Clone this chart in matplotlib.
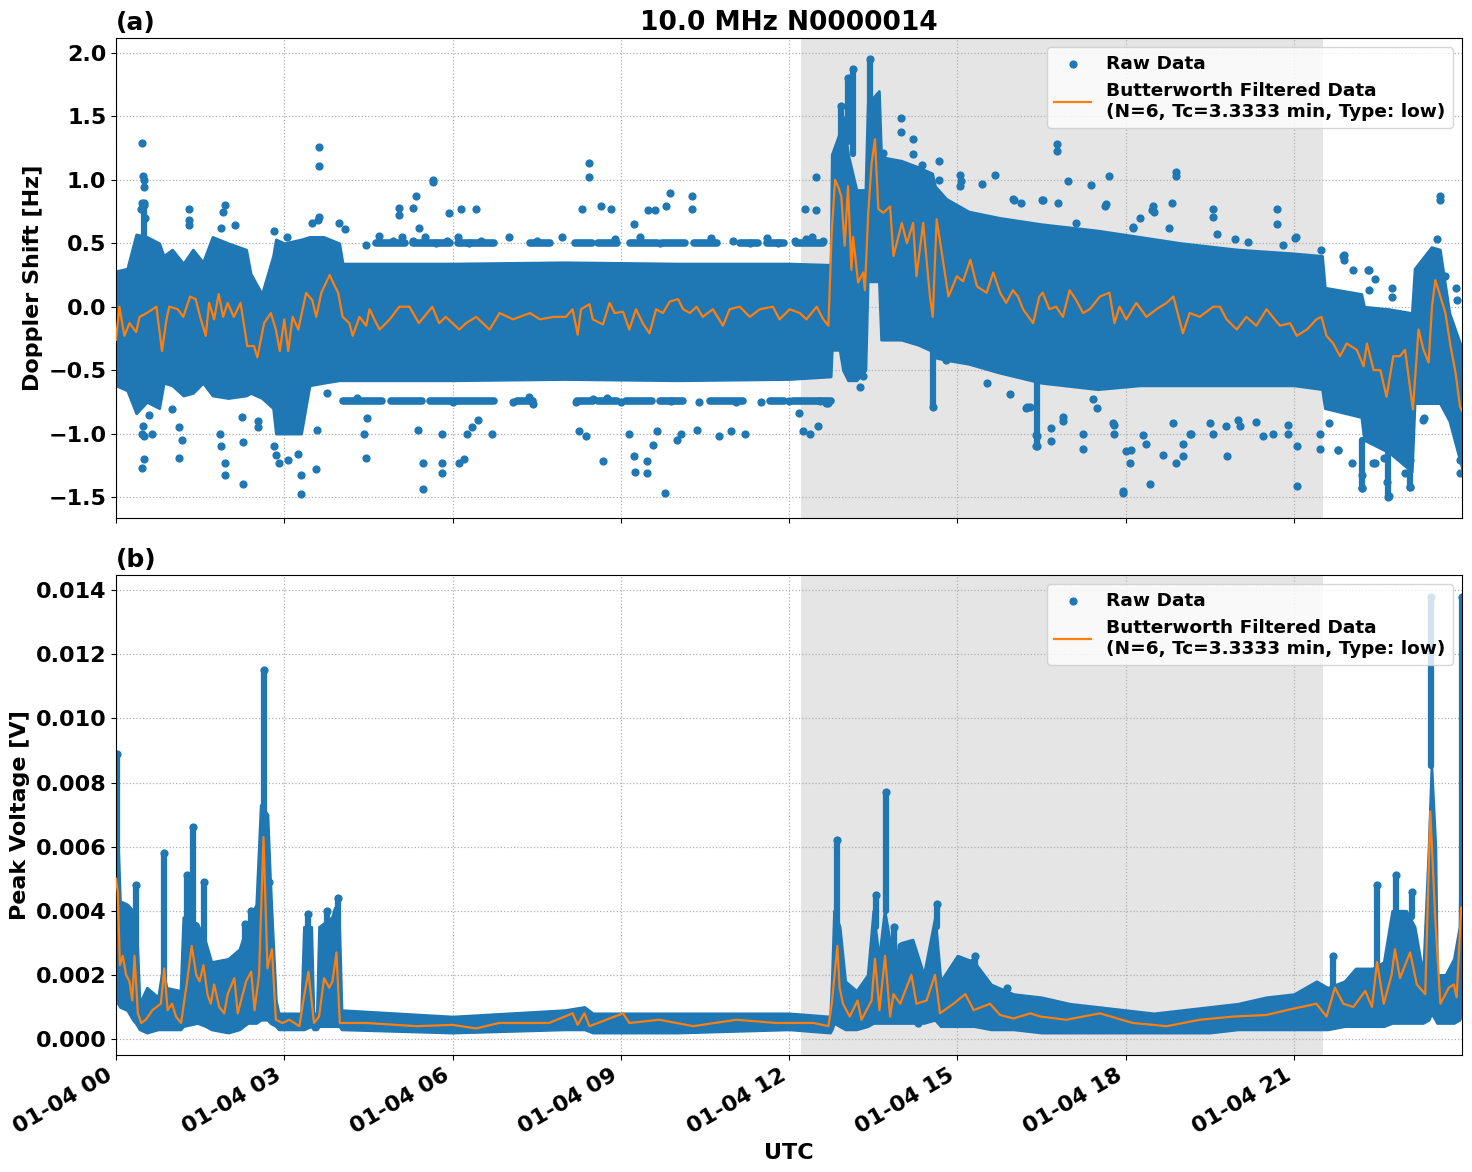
import numpy as np
import matplotlib
matplotlib.use("Agg")
import matplotlib.pyplot as plt
import matplotlib.dates as mdates

matplotlib.rcParams.update({
    'font.size': 16,
    'font.weight': 'bold',
    'axes.labelweight': 'bold',
    'axes.titleweight': 'bold',
})

# hours after 2024-01-04 00:00 UTC
shade_start = 12.21
shade_end = 21.52
t_last = 23.995

# ---- (a) Doppler shift [Hz] ----
# dense part of the raw scatter: lower / upper edge
dop_band_t = [0.0, 0.2, 0.36, 0.55, 0.77, 0.85, 1.0, 1.2, 1.37, 1.55, 1.72, 2.0, 2.32, 2.4, 2.6, 2.8, 2.85,
              3.0, 3.3, 3.45, 3.7, 3.98, 4.04, 6.0, 8.0, 10.0, 12.0, 12.74, 12.76, 12.9, 12.96, 13.05, 13.2,
              13.36, 13.4, 13.6, 13.64, 14.0, 14.3, 14.55, 14.6, 14.8, 15.2, 15.75, 16.5, 17.5, 18.25, 19.0,
              20.0, 21.0, 21.5, 21.55, 22.2, 22.25, 22.7, 23.1, 23.15, 23.45, 23.6, 23.77, 24.0]
dop_band_lo = [-0.62, -0.66, -0.84, -0.75, -0.8, -0.6, -0.62, -0.7, -0.68, -0.6, -0.7, -0.72, -0.7, -0.68,
               -0.72, -0.8, -1.0, -1.0, -1.0, -0.62, -0.6, -0.58, -0.58, -0.58, -0.57, -0.58, -0.57, -0.55,
               -0.34, -0.34, -0.5, -0.58, -0.58, -0.5, 0.2, 0.2, -0.26, -0.26, -0.3, -0.35, -0.4, -0.42,
               -0.45, -0.52, -0.6, -0.65, -0.62, -0.62, -0.62, -0.62, -0.65, -0.8, -0.87, -1.05, -1.15,
               -1.3, -0.76, -0.76, -0.76, -0.9, -1.28]
dop_band_hi = [0.28, 0.3, 0.57, 0.55, 0.5, 0.4, 0.45, 0.34, 0.45, 0.35, 0.55, 0.5, 0.45, 0.26, 0.1, 0.4, 0.53,
               0.5, 0.53, 0.55, 0.55, 0.5, 0.34, 0.34, 0.35, 0.34, 0.34, 0.33, 1.2, 1.37, 1.5, 1.2, 0.92,
               0.92, 1.6, 1.7, 1.18, 1.15, 1.1, 1.05, 0.95, 0.85, 0.75, 0.7, 0.65, 0.6, 0.55, 0.5, 0.45,
               0.42, 0.4, 0.15, 0.1, 0.0, -0.02, -0.05, 0.3, 0.47, 0.45, -0.05, -0.34]
# rows of raw points on the neighbouring frequency bins (quiet hours)
dop_row_t0 = [4.63, 5.3, 6.1, 7.38, 8.18, 8.6, 9.16, 9.76, 10.3, 11.12, 11.6, 12.13,
              4.04, 4.9, 5.6, 7.14, 8.21, 8.6, 9.1, 9.7, 10.59, 11.66, 12.07]
dop_row_t1 = [5.15, 5.95, 6.73, 7.74, 8.48, 8.93, 9.64, 10.15, 10.71, 11.45, 11.9, 12.6,
              4.75, 5.45, 6.73, 7.44, 8.5, 8.93, 9.55, 10.11, 11.18, 11.9, 12.74]
dop_row_v = [0.5, 0.5, 0.5, 0.5, 0.5, 0.5, 0.5, 0.5, 0.5, 0.5, 0.5, 0.5,
             -0.74, -0.74, -0.74, -0.74, -0.74, -0.74, -0.74, -0.74, -0.74, -0.74, -0.74]
# narrow columns of raw points
dop_spk_t = [0.5, 12.93, 13.05, 13.14, 13.44, 14.57, 16.42, 22.21, 22.67, 23.07]
dop_spk_lo = [0.55, 1.2, 1.3, 1.2, 1.6, -0.35, -0.6, -1.05, -1.15, -1.3]
dop_spk_hi = [0.82, 1.58, 1.8, 1.87, 1.95, -0.79, -1.1, -1.43, -1.5, -1.42]
# isolated raw points
dop_out_t = [0.47, 0.48, 0.5, 0.5, 0.46, 0.5, 0.52, 0.45, 0.48, 0.47, 0.5, 0.5, 0.47, 0.58, 0.64, 1.0, 1.12,
             1.13, 1.17, 1.3, 1.3, 1.3, 1.95, 1.9, 1.88, 2.13, 1.85, 1.87, 1.95, 1.95, 2.27, 2.27, 2.25, 2.54,
             2.54, 2.82, 2.85, 2.91, 2.82, 3.04, 3.3, 3.3, 3.07, 3.24, 3.62, 3.62, 3.62, 3.6, 3.5, 3.98, 4.08,
             3.58, 3.57, 3.76, 4.3, 4.43, 4.47, 4.45, 4.46, 4.69, 4.93, 5.1, 5.3, 5.5, 5.7, 5.9, 6.1, 6.3,
             6.5, 5.05, 5.05, 5.35, 5.3, 5.66, 5.66, 5.94, 6.15, 6.42, 5.4, 5.38, 5.48, 5.48, 5.82, 5.82,
             5.82, 6.0, 6.12, 6.21, 6.25, 6.35, 6.45, 6.7, 7.07, 7.43, 7.37, 7.0, 7.5, 7.95, 8.44, 8.44, 8.3,
             8.65, 8.83, 9.24, 9.48, 9.6, 9.87, 9.81, 10.26, 10.26, 12.48, 12.48, 12.28, 8.9, 9.35, 9.7,
             10.6, 11.0, 11.3, 11.6, 11.8, 12.1, 8.2, 8.5, 8.75, 9.0, 9.9, 10.4, 11.05, 11.5, 12.0, 8.26,
             8.38, 8.68, 9.15, 9.24, 9.26, 9.46, 9.47, 9.57, 9.79, 9.65, 10.0, 10.07, 10.35, 10.75, 10.97,
             11.21, 12.18, 12.37, 12.52, 12.7, 13.67, 14.0, 14.0, 14.21, 14.21, 14.36, 14.68, 14.68, 15.05,
             15.05, 15.43, 15.67, 16.0, 13.08, 13.32, 13.26, 14.96, 16.24, 16.77, 16.77, 16.97, 17.39, 17.7,
             18.89, 18.89, 18.83, 15.99, 16.51, 16.79, 17.64, 17.12, 18.13, 18.49, 18.5, 19.56, 19.56,
             20.69, 20.69, 21.02, 21.49, 21.88, 21.9, 22.33, 22.33, 22.74, 22.74, 22.45, 23.61, 23.61,
             23.55, 23.7, 23.89, 23.9, 15.93, 16.23, 16.4, 16.4, 16.66, 16.66, 16.88, 17.24, 17.24, 17.48,
             17.8, 17.8, 17.95, 17.95, 18.0, 18.07, 18.1, 18.43, 18.31, 18.37, 18.67, 18.9, 19.02, 19.02,
             19.16, 19.8, 19.56, 20.0, 20.33, 20.63, 20.9, 21.05, 21.05, 21.46, 21.46, 21.79, 22.03, 22.21,
             22.21, 22.45, 22.6, 22.65, 22.7, 22.98, 23.07, 23.07, 23.31, 23.96, 23.96,
             18.25, 18.46, 18.78, 19.62, 19.94, 20.18, 20.8, 21.04, 21.9, 22.05, 22.32, 23.24, 18.84, 19.14,
             19.5, 19.79, 20.03, 20.45, 20.89, 21.63, 21.78, 22.41, 23.3, 14.8, 15.43, 15.52, 16.29, 16.41,
             16.88, 17.42, 17.78, 16.53, 17.63, 16.14, 18.13, 15.07, 12.3, 12.4, 12.6, 12.55, 12.25, 12.65]
dop_out_v = [1.29, 1.03, 1.0, 0.94, 0.82, 0.8, 0.7, 0.77, -0.94, -1.0, -1.02, -1.2, -1.27, -0.85, -1.0, -0.81,
             -1.19, -0.95, -1.05, 0.77, 0.68, 0.64, 0.8, 0.75, 0.62, 0.64, -1.0, -1.1, -1.23, -1.33, -1.4,
             -1.07, -0.87, -0.95, -0.9, -1.1, -1.17, -1.23, 0.6, 0.55, -1.48, -1.33, -1.21, -1.16, 1.26, 1.11,
             0.71, 0.68, 0.66, 0.66, 0.61, -0.97, -1.28, -0.68, -0.72, -1.0, -0.88, -1.19, 0.49, 0.56, 0.52,
             0.55, 0.52, 0.55, 0.5, 0.52, 0.55, 0.5, 0.52, 0.78, 0.72, 0.87, 0.78, 1.0, 0.98, 0.74, 0.77,
             0.77, 0.62, -0.97, -1.23, -1.44, -1.23, -1.31, -1.0, -0.75, -1.23, -1.2, -1.0, -0.95, -0.89,
             -1.0, -0.75, -0.77, -0.71, 0.55, 0.52, 0.55, 1.13, 1.02, 0.77, 0.79, 0.77, 0.65, 0.76, 0.76,
             0.9, 0.79, 0.87, 0.77, 1.02, 0.76, 0.77, 0.53, 0.55, 0.5, 0.54, 0.52, 0.5, 0.54, 0.5, 0.52,
             -0.75, -0.73, -0.72, -0.75, -0.74, -0.75, -0.75, -0.75, -0.74, -0.98, -1.02, -1.22, -1.0,
             -1.18, -1.3, -1.22, -1.31, -1.09, -1.47, -0.98, -1.05, -1.0, -0.97, -1.02, -0.98, -1.0, -0.84,
             -1.0, -0.94, -0.76, 1.21, 1.49, 1.38, 1.32, 1.2, 1.12, 1.15, 1.0, 1.04, 0.95, 0.97, 1.04, 0.84,
             -0.48, -0.55, -0.63, -0.4, -0.79, 1.28, 1.23, 0.99, 0.96, 1.03, 1.06, 1.03, 0.82, 0.85, 0.84,
             0.82, 0.81, 0.66, 0.62, 0.79, 0.75, 0.77, 0.71, 0.77, 0.65, 0.54, 0.45, 0.4, 0.37, 0.29, 0.13,
             0.08, 0.15, 0.22, 0.87, 0.84, 0.53, 0.24, 0.15, 0.05, -0.69, -0.8, -1.1, -1.01, -1.06, -0.96,
             -0.9, -1.12, -1.0, -0.8, -0.93, -1.0, -1.47, -1.45, -1.14, -1.23, -1.13, -1.4, -1.01, -1.08,
             -1.17, -1.23, -1.18, -1.08, -1.0, -1.18, -1.0, -0.89, -0.91, -1.0, -0.93, -1.41, -1.1, -1.0,
             -1.12, -1.13, -1.23, -1.33, -1.43, -1.23, -1.19, -1.38, -1.49, -1.31, -1.42, -1.21, -0.88,
             -1.31, -1.21,
             0.7, 0.76, 0.62, 0.57, 0.53, 0.51, 0.49, 0.55, 0.41, 0.29, 0.29, 0.25, -0.92, -1.0,
             -0.92, -0.94, -0.94, -1.02, -1.0, -0.92, -1.13, -1.23, -0.89, -0.42, -0.42, -0.6, -0.79, -1.02,
             -0.87, -0.73, -0.92, 0.84, 0.79, 0.82, 0.63, 0.99, 0.53, 0.55, 0.52, -0.74, -0.98, -0.76]
# Butterworth filtered curve
dop_filt_t = [0.0, 0.06, 0.15, 0.24, 0.36, 0.42, 0.55, 0.72, 0.82, 0.9, 0.95, 1.1, 1.2, 1.32, 1.42, 1.5, 1.6,
              1.66, 1.75, 1.83, 1.91, 1.99, 2.1, 2.22, 2.34, 2.46, 2.52, 2.64, 2.76, 2.85, 2.92, 3.0, 3.07,
              3.15, 3.25, 3.39, 3.5, 3.57, 3.66, 3.81, 3.87, 3.96, 4.04, 4.16, 4.22, 4.34, 4.46, 4.52, 4.64,
              4.7, 4.88, 5.05, 5.23, 5.4, 5.64, 5.76, 5.88, 6.12, 6.24, 6.42, 6.66, 6.84, 7.08, 7.38, 7.56,
              7.8, 8.02, 8.14, 8.23, 8.29, 8.44, 8.5, 8.68, 8.8, 8.89, 9.04, 9.15, 9.27, 9.39, 9.51, 9.63,
              9.75, 9.87, 10.02, 10.11, 10.23, 10.35, 10.46, 10.64, 10.82, 10.94, 11.12, 11.3, 11.48, 11.71,
              11.83, 12.01, 12.19, 12.31, 12.49, 12.61, 12.7, 12.76, 12.82, 12.87, 12.93, 12.99, 13.05, 13.11,
              13.14, 13.23, 13.32, 13.35, 13.41, 13.47, 13.53, 13.59, 13.68, 13.8, 13.86, 14.01, 14.1, 14.21,
              14.27, 14.39, 14.51, 14.56, 14.63, 14.75, 14.84, 14.99, 15.1, 15.23, 15.35, 15.52, 15.64, 15.76,
              15.87, 15.99, 16.08, 16.17, 16.35, 16.46, 16.52, 16.64, 16.76, 16.88, 17.0, 17.12, 17.24, 17.36,
              17.54, 17.71, 17.8, 17.89, 18.01, 18.19, 18.37, 18.55, 18.73, 18.85, 19.02, 19.14, 19.32, 19.56,
              19.68, 19.8, 19.98, 20.15, 20.33, 20.51, 20.75, 20.93, 21.05, 21.23, 21.4, 21.49, 21.58, 21.7,
              21.82, 21.94, 22.12, 22.24, 22.3, 22.42, 22.54, 22.65, 22.77, 22.89, 22.98, 23.12, 23.22, 23.31,
              23.4, 23.46, 23.52, 23.61, 23.7, 23.79, 23.88, 23.96, 23.995]
dop_filt_v = [-0.26, 0.0, -0.23, -0.13, -0.2, -0.08, -0.05, 0.0, -0.35, -0.1, 0.0, -0.02, -0.08, 0.08, 0.06,
              -0.08, -0.23, 0.03, -0.1, 0.1, -0.08, 0.03, -0.08, 0.03, -0.31, -0.31, -0.4, -0.13, -0.05,
              -0.18, -0.35, -0.1, -0.35, -0.08, -0.18, 0.11, 0.05, -0.08, 0.11, 0.25, 0.19, 0.11, -0.08,
              -0.13, -0.23, -0.08, -0.15, -0.02, -0.13, -0.18, -0.1, 0.0, 0.0, -0.13, 0.0, -0.13, -0.08,
              -0.18, -0.13, -0.08, -0.18, -0.05, -0.1, -0.05, -0.1, -0.08, -0.08, -0.02, -0.22, -0.02, 0.02,
              -0.1, -0.14, 0.03, -0.05, -0.04, -0.18, -0.02, -0.13, -0.21, -0.02, -0.05, 0.04, 0.06, -0.02,
              -0.05, 0.0, -0.08, -0.02, -0.15, -0.02, 0.0, -0.08, -0.02, 0.0, -0.1, -0.02, -0.05, -0.1, 0.0,
              -0.1, -0.15, 0.6, 1.0, 0.95, 0.87, 0.48, 0.95, 0.29, 0.55, 0.19, 0.27, 0.13, 0.74, 1.13, 1.32,
              0.77, 0.74, 0.79, 0.4, 0.66, 0.5, 0.66, 0.24, 0.66, 0.08, -0.08, 0.69, 0.34, 0.08, 0.24, 0.2,
              0.37, 0.16, 0.11, 0.27, 0.11, 0.03, 0.13, 0.08, -0.02, -0.13, 0.08, 0.11, -0.02, 0.0, -0.08,
              0.13, 0.05, -0.05, -0.02, 0.08, 0.11, -0.13, 0.0, -0.1, 0.03, -0.08, -0.02, 0.03, 0.08, -0.21,
              -0.05, -0.08, 0.0, 0.0, -0.1, -0.18, -0.08, -0.15, -0.02, -0.15, -0.13, -0.23, -0.18, -0.1,
              -0.08, -0.23, -0.29, -0.39, -0.29, -0.34, -0.47, -0.29, -0.5, -0.5, -0.71, -0.39, -0.39, -0.34,
              -0.81, -0.18, -0.34, -0.44, 0.0, 0.21, 0.08, -0.05, -0.31, -0.52, -0.79, -0.82]

# ---- (b) Peak voltage [V] ----
vol_band_t = [0.0, 0.04, 0.07, 0.2, 0.3, 0.35, 0.42, 0.55, 0.75, 0.83, 0.9, 1.15, 1.2, 1.45, 1.6, 1.7, 2.0,
              2.2, 2.35, 2.5, 2.58, 2.7, 2.75, 2.85, 2.9, 3.3, 3.35, 3.48, 3.52, 3.58, 3.62, 3.85, 3.9, 3.98,
              4.02, 6.0, 8.0, 8.35, 8.5, 10.0, 12.0, 12.73, 12.76, 12.8, 12.9, 13.0, 13.2, 13.4, 13.5, 13.6,
              13.7, 13.85, 14.0, 14.2, 14.4, 14.6, 14.7, 15.0, 15.3, 15.6, 16.0, 16.5, 17.0, 17.5, 18.0,
              18.5, 19.0, 19.5, 20.0, 20.5, 21.0, 21.4, 21.6, 21.9, 22.1, 22.4, 22.6, 22.75, 23.0, 23.15,
              23.3, 23.4, 23.45, 23.52, 23.55, 23.7, 23.85, 23.95, 23.995]
vol_band_lo = [0.0012, 0.0011, 0.0010, 0.0009, 0.0006, 0.0005, 0.0003, 0.0002, 0.0003, 0.0003, 0.0003,
               0.0003, 0.0004, 0.0005, 0.0004, 0.0003, 0.0002, 0.0003, 0.0005, 0.0005, 0.0006, 0.0006,
               0.0005, 0.0004, 0.0003, 0.0003, 0.0003, 0.0004, 0.0003, 0.0003, 0.0004, 0.0004, 0.0004,
               0.0004, 0.0003, 0.0002, 0.0003, 0.0003, 0.0002, 0.0002, 0.0003, 0.0002, 0.0003, 0.0005,
               0.0004, 0.0003, 0.0003, 0.0004, 0.0005, 0.0005, 0.0005, 0.0005, 0.0005, 0.0005, 0.0005,
               0.0006, 0.0004, 0.0004, 0.0004, 0.0003, 0.0003, 0.0002, 0.0002, 0.0002, 0.0002, 0.0002,
               0.0002, 0.0002, 0.0003, 0.0003, 0.0003, 0.0003, 0.0003, 0.0004, 0.0004, 0.0004, 0.0004,
               0.0005, 0.0005, 0.0005, 0.0005, 0.0006, 0.0008, 0.0006, 0.0005, 0.0005, 0.0005, 0.0006,
               0.0008]
vol_band_hi = [0.0070, 0.0058, 0.0043, 0.0042, 0.0040, 0.0042, 0.0011, 0.0016, 0.0013, 0.0022, 0.0016,
               0.0015, 0.0038, 0.0036, 0.0030, 0.0024, 0.0025, 0.0028, 0.0036, 0.0042, 0.0073, 0.0070,
               0.0048, 0.0012, 0.0008, 0.0008, 0.0035, 0.0035, 0.0008, 0.0008, 0.0035, 0.0038, 0.0041,
               0.0035, 0.0009, 0.0007, 0.0009, 0.0010, 0.0008, 0.0008, 0.0008, 0.0007, 0.0018, 0.0040,
               0.0035, 0.0018, 0.0015, 0.0020, 0.0040, 0.0025, 0.0040, 0.0025, 0.0030, 0.0031, 0.0020,
               0.0038, 0.0018, 0.0026, 0.0024, 0.0017, 0.0014, 0.0013, 0.0011, 0.0010, 0.0009, 0.0008,
               0.0009, 0.0010, 0.0011, 0.0013, 0.0014, 0.0018, 0.0016, 0.0018, 0.0022, 0.0022, 0.0024,
               0.0040, 0.0040, 0.0035, 0.0020, 0.0060, 0.0085, 0.0060, 0.0020, 0.0020, 0.0025, 0.0035,
               0.0090]
vol_spk_t = [0.02, 0.35, 0.85, 1.26, 1.37, 1.56, 2.3, 2.4, 2.64, 2.72, 3.43, 3.77, 3.95, 12.86, 13.55, 13.73,
             13.87, 14.0, 14.64, 15.32, 21.7, 22.48, 22.81, 23.1, 23.45, 23.99]
vol_spk_lo = [0.0045, 0.0030, 0.0015, 0.0035, 0.0035, 0.0030, 0.0025, 0.0030, 0.0070, 0.0040, 0.0030,
              0.0030, 0.0035, 0.0035, 0.0035, 0.0040, 0.0025, 0.0025, 0.0035, 0.0020, 0.0015, 0.0020,
              0.0040, 0.0038, 0.0085, 0.0040]
vol_spk_hi = [0.0089, 0.0048, 0.0058, 0.0051, 0.0066, 0.0049, 0.0036, 0.0040, 0.0115, 0.0049, 0.0039,
              0.0040, 0.0044, 0.0062, 0.0045, 0.0077, 0.0035, 0.0029, 0.0042, 0.0026, 0.0026, 0.0048,
              0.0051, 0.0046, 0.0138, 0.0138]
vol_out_t = [13.82, 13.82, 13.82, 14.0, 14.0, 14.3, 15.27, 15.88]
vol_out_v = [0.0030, 0.0027, 0.0025, 0.0027, 0.0025, 0.0005, 0.0024, 0.0016]
vol_filt_t = [0.0, 0.03, 0.07, 0.12, 0.18, 0.24, 0.29, 0.33, 0.39, 0.45, 0.53, 0.65, 0.8, 0.86, 0.92, 1.0,
              1.07, 1.16, 1.26, 1.35, 1.43, 1.49, 1.56, 1.63, 1.69, 1.75, 1.84, 1.93, 1.99, 2.11, 2.17, 2.23,
              2.32, 2.41, 2.47, 2.55, 2.63, 2.7, 2.78, 2.85, 2.97, 3.09, 3.27, 3.34, 3.43, 3.53, 3.62, 3.71,
              3.8, 3.86, 3.93, 3.99, 4.46, 5.35, 6.0, 6.42, 6.83, 7.72, 8.14, 8.23, 8.35, 8.44, 9.04, 9.15,
              9.69, 10.29, 11.06, 11.77, 12.43, 12.7, 12.76, 12.86, 12.9, 12.96, 13.08, 13.22, 13.29, 13.47,
              13.53, 13.61, 13.71, 13.8, 13.86, 13.98, 14.18, 14.27, 14.45, 14.6, 14.69, 14.93, 15.14, 15.29,
              15.58, 15.76, 16.0, 16.3, 16.48, 16.94, 17.54, 18.13, 18.73, 19.32, 19.92, 20.51, 20.87, 21.4,
              21.58, 21.73, 21.88, 22.06, 22.27, 22.39, 22.48, 22.6, 22.74, 22.8, 22.89, 23.07, 23.19, 23.34,
              23.43, 23.52, 23.61, 23.76, 23.85, 23.9, 23.98, 23.995]
vol_filt_v = [0.0050, 0.0046, 0.0023, 0.0026, 0.0020, 0.0018, 0.0012, 0.0026, 0.0008, 0.0005, 0.0006,
              0.0009, 0.0011, 0.0022, 0.0009, 0.0011, 0.0007, 0.0005, 0.0017, 0.0029, 0.0020, 0.0018,
              0.0023, 0.0014, 0.0011, 0.0017, 0.0010, 0.0008, 0.0014, 0.0019, 0.0008, 0.0012, 0.0018,
              0.0021, 0.0009, 0.0020, 0.0063, 0.0022, 0.0028, 0.0006, 0.0005, 0.0006, 0.0004, 0.0012,
              0.0021, 0.0005, 0.0007, 0.0019, 0.0016, 0.0018, 0.0027, 0.0005, 0.0005, 0.0004, 0.00044,
              0.00033, 0.0005, 0.0005, 0.0008, 0.00044, 0.0008, 0.0004, 0.0008, 0.0005, 0.0006, 0.0004,
              0.0006, 0.0005, 0.0005, 0.0004, 0.0011, 0.0029, 0.0016, 0.0011, 0.0007, 0.0012, 0.0006,
              0.0012, 0.0025, 0.0009, 0.0026, 0.0007, 0.0014, 0.0011, 0.0020, 0.0011, 0.0012, 0.0020,
              0.0008, 0.0011, 0.0014, 0.0009, 0.0011, 0.00075, 0.00064, 0.0008, 0.0007, 0.0006, 0.0008,
              0.0005, 0.0004, 0.0006, 0.0007, 0.00075, 0.0009, 0.0011, 0.0007, 0.0016, 0.0011, 0.0010,
              0.0015, 0.0010, 0.0024, 0.0011, 0.0020, 0.0028, 0.0019, 0.0027, 0.0017, 0.0014, 0.0071,
              0.0037, 0.0011, 0.0016, 0.0017, 0.0013, 0.0041, 0.0041]

filt_label = "Butterworth Filtered Data\n(N=6, Tc=3.3333 min, Type: low)"

day0 = mdates.date2num(np.datetime64('2024-01-04T00:00'))


def to_x(hours):
    return day0 + np.asarray(hours, dtype=float) / 24.0


def draw_panel(ax, band, spikes, outliers, filt, rows=None):
    ax.axvspan(to_x(shade_start), to_x(shade_end), color='gray', alpha=0.2, lw=0, zorder=0)
    bt, blo, bhi = band
    ax.fill_between(to_x(bt), blo, bhi, color='C0', lw=2, edgecolor='C0', zorder=2)
    if rows is not None:
        r0, r1, rv = rows
        ax.hlines(rv, to_x(r0), to_x(r1), colors='C0', lw=5.5, capstyle='round', zorder=2)
    st, slo, shi = spikes
    ax.vlines(to_x(st), slo, shi, color='C0', lw=4.5, capstyle='round', zorder=2)
    ax.scatter(to_x(st), shi, s=24, color='C0', zorder=2)
    ot, ov = outliers
    ax.scatter(to_x(ot), ov, s=24, color='C0', zorder=2, label='Raw Data')
    ft, fv = filt
    ax.plot(to_x(ft), fv, color='C1', lw=1.6, zorder=3, label=filt_label)
    ax.grid(True, linestyle=':', color='#b0b0b0', lw=0.9)
    ax.legend(loc='upper right', prop={'size': 13.3, 'weight': 'bold'})
    ax.tick_params(labelsize=16)


fig, (ax1, ax2) = plt.subplots(2, 1, sharex=True, figsize=(14.72, 11.72), dpi=100)
fig.subplots_adjust(left=0.0788, right=0.9932, top=0.9676, bottom=0.0998, hspace=0.119)

draw_panel(ax1, (dop_band_t, dop_band_lo, dop_band_hi), (dop_spk_t, dop_spk_lo, dop_spk_hi),
           (dop_out_t, dop_out_v), (dop_filt_t, dop_filt_v), (dop_row_t0, dop_row_t1, dop_row_v))
draw_panel(ax2, (vol_band_t, vol_band_lo, vol_band_hi), (vol_spk_t, vol_spk_lo, vol_spk_hi),
           (vol_out_t, vol_out_v), (vol_filt_t, vol_filt_v))

ax1.set_ylim(-1.665, 2.118)
ax2.set_ylim(-0.0005, 0.01447)
ax2.set_xlim(to_x(0), to_x(t_last))

ax1.set_title('10.0 MHz N0000014', fontsize=19)
ax1.set_title('(a)', loc='left', fontsize=18)
ax2.set_title('(b)', loc='left', fontsize=18)
ax1.set_ylabel('Doppler Shift [Hz]', fontsize=16)
ax2.set_ylabel('Peak Voltage [V]', fontsize=16)
ax2.set_xlabel('UTC', fontsize=16)

ax2.xaxis.set_major_locator(mdates.HourLocator(byhour=range(0, 24, 3)))
ax2.xaxis.set_major_formatter(mdates.DateFormatter('%m-%d %H'))
for lab in ax2.get_xticklabels():
    lab.set_rotation(30)
    lab.set_ha('right')

fig.savefig('out.png', dpi=100)
